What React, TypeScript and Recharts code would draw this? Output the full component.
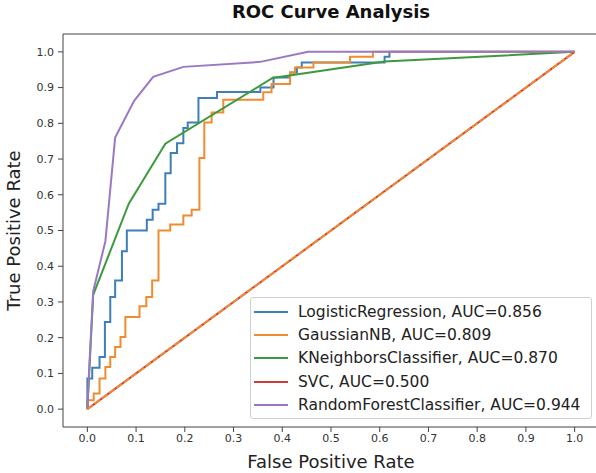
import { LineChart, Line, XAxis, YAxis, ReferenceLine, Legend } from 'recharts';

// ROC points (fpr, tpr)
const lrFpr = [0, 0, 0.01, 0.01, 0.025, 0.025, 0.036, 0.036, 0.047, 0.047, 0.057, 0.057, 0.071, 0.071, 0.081, 0.081, 0.122, 0.122, 0.134, 0.134, 0.146, 0.146, 0.16, 0.16, 0.171, 0.171, 0.184, 0.184, 0.197, 0.197, 0.206, 0.206, 0.228, 0.228, 0.266, 0.266, 0.355, 0.355, 0.382, 0.382, 0.416, 0.416, 0.43, 0.43, 0.44, 0.44, 0.61, 0.61, 0.62, 0.62, 1];
const lrTpr = [0, 0.086, 0.086, 0.116, 0.116, 0.146, 0.146, 0.244, 0.244, 0.314, 0.314, 0.36, 0.36, 0.442, 0.442, 0.5, 0.5, 0.53, 0.53, 0.558, 0.558, 0.575, 0.575, 0.66, 0.66, 0.717, 0.717, 0.744, 0.744, 0.787, 0.787, 0.802, 0.802, 0.871, 0.871, 0.888, 0.888, 0.9, 0.9, 0.928, 0.928, 0.942, 0.942, 0.956, 0.956, 0.97, 0.97, 0.986, 0.986, 1, 1];

const nbFpr = [0, 0, 0.013, 0.013, 0.025, 0.025, 0.037, 0.037, 0.047, 0.047, 0.057, 0.057, 0.068, 0.068, 0.078, 0.078, 0.107, 0.107, 0.121, 0.121, 0.133, 0.133, 0.146, 0.146, 0.17, 0.17, 0.197, 0.197, 0.214, 0.214, 0.23, 0.23, 0.24, 0.24, 0.255, 0.255, 0.279, 0.279, 0.361, 0.361, 0.378, 0.378, 0.416, 0.416, 0.426, 0.426, 0.464, 0.464, 0.539, 0.539, 0.586, 0.586, 1];
const nbTpr = [0, 0.025, 0.025, 0.044, 0.044, 0.086, 0.086, 0.118, 0.118, 0.146, 0.146, 0.174, 0.174, 0.202, 0.202, 0.258, 0.258, 0.288, 0.288, 0.314, 0.314, 0.36, 0.36, 0.5, 0.5, 0.517, 0.517, 0.542, 0.542, 0.558, 0.558, 0.703, 0.703, 0.802, 0.802, 0.83, 0.83, 0.866, 0.866, 0.887, 0.887, 0.91, 0.91, 0.942, 0.942, 0.956, 0.956, 0.97, 0.97, 0.986, 0.986, 1, 1];

const knnFpr = [0, 0.012, 0.085, 0.16, 0.38, 0.61, 1];
const knnTpr = [0, 0.32, 0.575, 0.743, 0.927, 0.973, 1];

const svcFpr = [0, 1];
const svcTpr = [0, 1];

const rfFpr = [0, 0.004, 0.012, 0.037, 0.057, 0.096, 0.135, 0.197, 0.355, 0.453, 1];
const rfTpr = [0, 0.12, 0.33, 0.47, 0.76, 0.863, 0.93, 0.958, 0.972, 1, 1];

const diagFpr = [0, 1];
const diagTpr = [0, 1];

const seriesNames = [
  'LogisticRegression, AUC=0.856',
  'GaussianNB, AUC=0.809',
  'KNeighborsClassifier, AUC=0.870',
  'SVC, AUC=0.500',
  'RandomForestClassifier, AUC=0.944',
];

const axisTicks = [0, 0.1, 0.2, 0.3, 0.4, 0.5, 0.6, 0.7, 0.8, 0.9, 1.0];

const toPoints = (xs: number[], ys: number[]) => xs.map((x, i) => ({ x, y: ys[i] }));

const FONT = '"DejaVu Sans", sans-serif';

const renderLegend = (props: any) => {
  const items = (props.payload || [])
    .filter((p: any) => seriesNames.includes(p.value))
    .sort((a: any, b: any) => seriesNames.indexOf(a.value) - seriesNames.indexOf(b.value));
  return (
    <div
      style={{
        border: '1px solid #d0d0d0',
        borderRadius: 3,
        background: 'rgba(255,255,255,0.85)',
        padding: '2px 0',
        fontFamily: FONT,
        fontSize: 15.5,
        color: '#222',
      }}
    >
      {items.map((entry: any) => (
        <div key={entry.value} style={{ display: 'flex', alignItems: 'center', height: 23.3 }}>
          <svg width={47} height={10} style={{ flex: 'none' }}>
            <line x1={3} y1={5} x2={37} y2={5} stroke={entry.color} strokeWidth={2} />
          </svg>
          <span style={{ whiteSpace: 'nowrap' }}>{entry.value}</span>
        </div>
      ))}
    </div>
  );
};

export default function App() {
  return (
    <div style={{ position: 'absolute', left: 0, top: 0, width: 596, height: 473, overflow: 'hidden', background: '#fff' }}>
      <div
        style={{
          position: 'absolute',
          left: 63,
          width: 536,
          top: 1,
          textAlign: 'center',
          fontFamily: FONT,
          fontWeight: 'bold',
          fontSize: 18,
          color: '#111',
          zIndex: 2,
        }}
      >
        ROC Curve Analysis
      </div>
      <LineChart width={600} height={473} margin={{ top: 34, right: 1, bottom: 0, left: 0 }} style={{ fontFamily: FONT }}>
        <XAxis
          dataKey="x"
          type="number"
          domain={[-0.05, 1.05]}
          ticks={axisTicks}
          tickFormatter={(v: number) => v.toFixed(1)}
          allowDataOverflow
          height={46}
          tickSize={5}
          tickMargin={2}
          stroke="#444"
          tick={{ fontSize: 11, fill: '#333' }}
          label={{ value: 'False Positive Rate', position: 'insideBottom', offset: 5, style: { fontSize: 18, fill: '#222' } }}
        />
        <YAxis
          type="number"
          domain={[-0.05, 1.05]}
          ticks={axisTicks}
          tickFormatter={(v: number) => v.toFixed(1)}
          allowDataOverflow
          width={63}
          tickSize={5}
          tickMargin={4}
          stroke="#444"
          tick={{ fontSize: 11, fill: '#333' }}
          label={{ value: 'True Positive Rate', angle: -90, position: 'insideLeft', offset: 14, style: { fontSize: 18, fill: '#222', textAnchor: 'middle' } }}
        />
        <ReferenceLine y={1.05} stroke="#444" />
        <ReferenceLine x={1.05} stroke="#444" />
        <Line name={seriesNames[0]} data={toPoints(lrFpr, lrTpr)} dataKey="y" type="linear" stroke="#3f7fb8" strokeWidth={2} dot={false} isAnimationActive={false} />
        <Line name={seriesNames[1]} data={toPoints(nbFpr, nbTpr)} dataKey="y" type="linear" stroke="#f08c30" strokeWidth={2} dot={false} isAnimationActive={false} />
        <Line name={seriesNames[2]} data={toPoints(knnFpr, knnTpr)} dataKey="y" type="linear" stroke="#3c9a3c" strokeWidth={2} dot={false} isAnimationActive={false} />
        <Line name={seriesNames[3]} data={toPoints(svcFpr, svcTpr)} dataKey="y" type="linear" stroke="#d03a3a" strokeWidth={2} dot={false} isAnimationActive={false} />
        <Line name={seriesNames[4]} data={toPoints(rfFpr, rfTpr)} dataKey="y" type="linear" stroke="#9a78c4" strokeWidth={2} dot={false} isAnimationActive={false} />
        <Line name="diagonal" data={toPoints(diagFpr, diagTpr)} dataKey="y" type="linear" stroke="#f08c30" strokeWidth={2} strokeDasharray="7 2" dot={false} legendType="none" isAnimationActive={false} />
        <Legend
          layout="vertical"
          align="center"
          verticalAlign="middle"
          content={renderLegend}
          wrapperStyle={{ left: 250, top: 297, width: 342, height: 'auto' }}
        />
      </LineChart>
    </div>
  );
}
